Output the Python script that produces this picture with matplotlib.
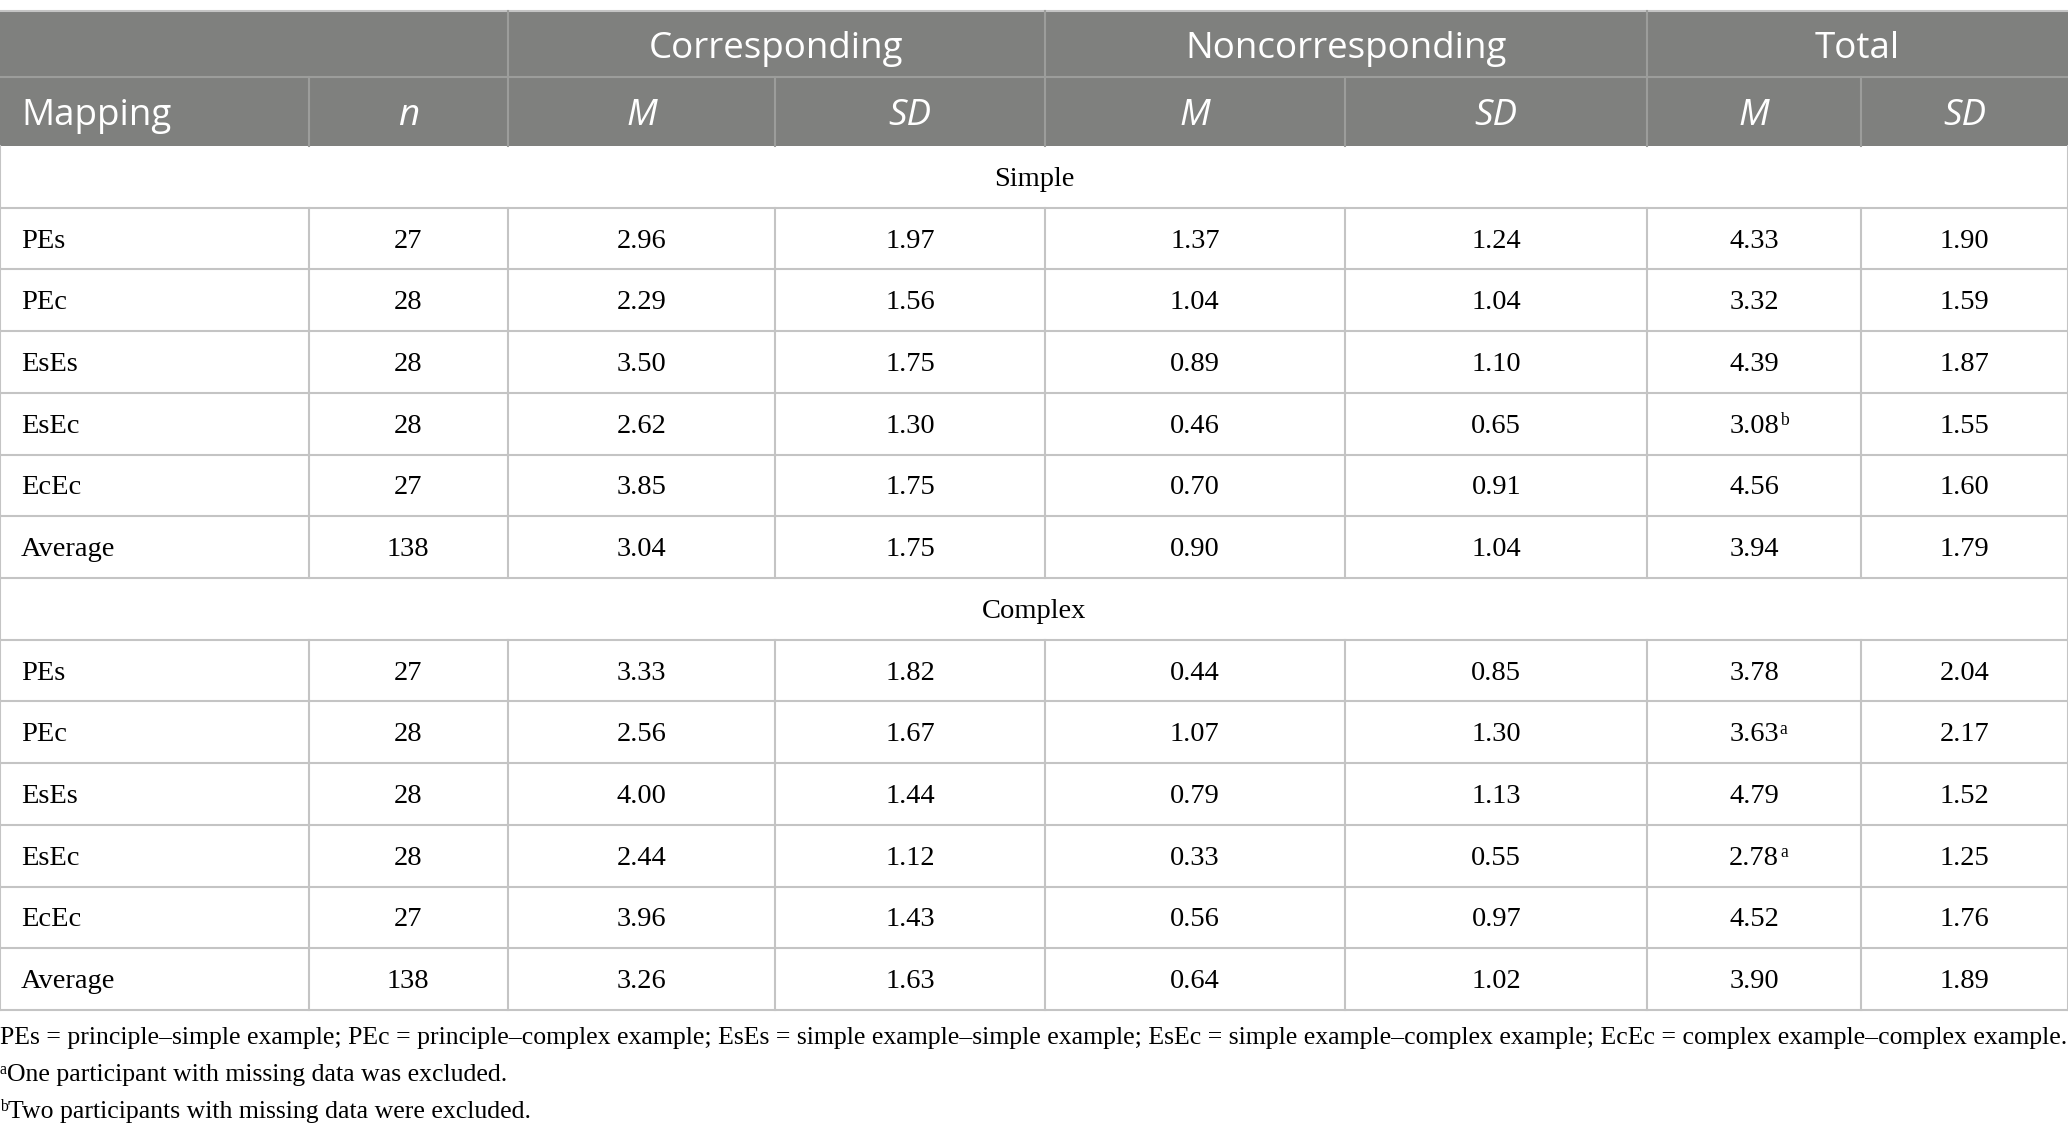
import matplotlib
matplotlib.use('Agg')
import matplotlib.pyplot as plt
from matplotlib.patches import Rectangle
from matplotlib import font_manager as fm

# ---------------- data ----------------
group_labels = ['Simple', 'Complex']
mappings = ['PEs', 'PEc', 'EsEs', 'EsEc', 'EcEc', 'Average']
n_vals = [27, 28, 28, 28, 27, 138]

simple_corr_M = [2.96, 2.29, 3.50, 2.62, 3.85, 3.04]
simple_corr_SD = [1.97, 1.56, 1.75, 1.30, 1.75, 1.75]
simple_non_M = [1.37, 1.04, 0.89, 0.46, 0.70, 0.90]
simple_non_SD = [1.24, 1.04, 1.10, 0.65, 0.91, 1.04]
simple_tot_M = [4.33, 3.32, 4.39, 3.08, 4.56, 3.94]
simple_tot_SD = [1.90, 1.59, 1.87, 1.55, 1.60, 1.79]
simple_tot_note = ['', '', '', 'b', '', '']

complex_corr_M = [3.33, 2.56, 4.00, 2.44, 3.96, 3.26]
complex_corr_SD = [1.82, 1.67, 1.44, 1.12, 1.43, 1.63]
complex_non_M = [0.44, 1.07, 0.79, 0.33, 0.56, 0.64]
complex_non_SD = [0.85, 1.30, 1.13, 0.55, 0.97, 1.02]
complex_tot_M = [3.78, 3.63, 4.79, 2.78, 4.52, 3.90]
complex_tot_SD = [2.04, 2.17, 1.52, 1.25, 1.76, 1.89]
complex_tot_note = ['', 'a', '', 'a', '', '']

top_headers = ['Corresponding', 'Noncorresponding', 'Total']
sub_headers = ['Mapping', 'n', 'M', 'SD', 'M', 'SD', 'M', 'SD']

footnote_main = ('PEs = principle\u2013simple example; PEc = principle\u2013complex example; '
                 'EsEs = simple example\u2013simple example; EsEc = simple example\u2013complex example; '
                 'EcEc = complex example\u2013complex example.')
footnotes = [('a', 'One participant with missing data was excluded.'),
             ('b', 'Two participants with missing data were excluded.')]

# ---------------- layout ----------------
W, H = 1568, 856
PX = 100 / 72 / (2068 / 1568)   # display px per point
col_edges = [0, 234, 385, 588, 792, 1020, 1249, 1411, 1568]
h1_top, h1_bot, h2_bot = 8, 58, 110
row_h = (761 - 110) / 14.0

HEADER_BG = '#7f807e'
HEADER_LINE = '#9c9d9b'
GRID = '#c4c4c4'

names = {f.name for f in fm.fontManager.ttflist}
italic_ok = any(f.name == 'Open Sans' and f.style == 'italic' for f in fm.fontManager.ttflist)
sans = 'Open Sans' if 'Open Sans' in names else 'DejaVu Sans'
sans_it = sans if italic_ok else 'Noto Sans'
serif = 'Liberation Serif'

fig = plt.figure(figsize=(20.68, 11.36), dpi=100)
ax = fig.add_axes([0, 0, 1, 1])
ax.set_xlim(0, W)
ax.set_ylim(H, 0)
ax.axis('off')

HFS = 26.5
BFS = 20.5
FFS = 18.5
SUP = 0.62

def base(center, fs, cap=0.66):
    return center + 0.5 * cap * fs * PX

def sup_after(t, mark, baseline, fs):
    ax.annotate(mark, xy=(1, baseline - 0.27 * fs * PX), xycoords=(t, 'data'),
                xytext=(0.6, 0), textcoords='offset points', ha='left', va='baseline',
                fontsize=fs * SUP, family=serif)

# header background
ax.add_patch(Rectangle((0, h1_top), W, h2_bot - h1_top, facecolor=HEADER_BG, edgecolor='none'))
ax.plot([0, W], [h1_top, h1_top], color=GRID, lw=1.5)
ax.plot([0, W], [h1_bot, h1_bot], color=HEADER_LINE, lw=1.5)
for x in [385, 792, 1249]:
    ax.plot([x, x], [h1_top, h1_bot], color=HEADER_LINE, lw=1.5)
for x in col_edges[1:-1]:
    ax.plot([x, x], [h1_bot, h2_bot], color=HEADER_LINE, lw=1.5)

spans = [(2, 4), (4, 6), (6, 8)]
yb1 = base((h1_top + h1_bot) / 2 + 1, HFS, 0.714)
for lab, (a, b) in zip(top_headers, spans):
    ax.text((col_edges[a] + col_edges[b]) / 2, yb1, lab,
            ha='center', va='baseline', color='white', fontsize=HFS, family=sans)
yb2 = base((h1_bot + h2_bot) / 2, HFS, 0.714)
for i, lab in enumerate(sub_headers):
    if i == 0:
        ax.text(16, yb2, lab, ha='left', va='baseline', color='white', fontsize=HFS, family=sans)
    else:
        ax.text((col_edges[i] + col_edges[i + 1]) / 2, yb2, lab, ha='center', va='baseline',
                color='white', fontsize=HFS, family=sans_it, style='italic')

groups = [
    (simple_corr_M, simple_corr_SD, simple_non_M, simple_non_SD, simple_tot_M, simple_tot_SD, simple_tot_note),
    (complex_corr_M, complex_corr_SD, complex_non_M, complex_non_SD, complex_tot_M, complex_tot_SD, complex_tot_note),
]

y = h2_bot
for gl, g in zip(group_labels, groups):
    ax.text(W / 2, base(y + row_h / 2, BFS), gl, ha='center', va='baseline',
            fontsize=BFS, family=serif)
    ax.plot([0, W], [y + row_h, y + row_h], color=GRID, lw=1.5)
    ax.plot([0, 0], [y, y + row_h], color=GRID, lw=1.5)
    ax.plot([W, W], [y, y + row_h], color=GRID, lw=1.5)
    y += row_h
    cm, cs, nm, ns, tm, ts, tn = g
    for r in range(len(mappings)):
        yb = base(y + row_h / 2 - 0.3, BFS)
        ax.text(16, yb, mappings[r], ha='left', va='baseline', fontsize=BFS, family=serif)
        vals = [str(n_vals[r]), f'{cm[r]:.2f}', f'{cs[r]:.2f}', f'{nm[r]:.2f}', f'{ns[r]:.2f}',
                f'{tm[r]:.2f}', f'{ts[r]:.2f}']
        for j, v in enumerate(vals):
            xc = (col_edges[j + 1] + col_edges[j + 2]) / 2
            t = ax.text(xc, yb, v, ha='center', va='baseline', fontsize=BFS, family=serif)
            if j == 5 and tn[r]:
                sup_after(t, tn[r], yb, BFS)
        for x in col_edges:
            ax.plot([x, x], [y, y + row_h], color=GRID, lw=1.5)
        ax.plot([0, W], [y + row_h, y + row_h], color=GRID, lw=1.5)
        y += row_h

# footnotes
ax.text(0, base(780, FFS), footnote_main, ha='left', va='baseline', fontsize=FFS, family=serif)
for (mark, txt), yy in zip(footnotes, [808, 836]):
    yb = base(yy, FFS)
    m = ax.text(0, yb - 0.27 * FFS * PX, mark, ha='left', va='baseline',
                fontsize=FFS * SUP, family=serif)
    ax.annotate(txt, xy=(1, yb), xycoords=(m, 'data'), xytext=(0.3, 0),
                textcoords='offset points', ha='left', va='baseline',
                fontsize=FFS, family=serif)

fig.savefig('out.png', dpi=100, facecolor='white')
